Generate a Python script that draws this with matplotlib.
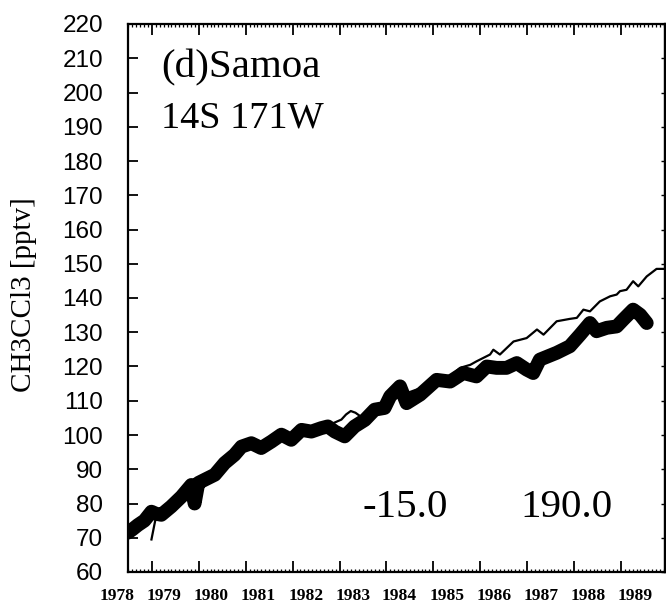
import numpy as np
import matplotlib
matplotlib.use("Agg")
import matplotlib.pyplot as plt
import matplotlib.transforms as mtransforms

# ---------------- data ----------------
obs_year = [1978.00, 1978.10, 1978.21, 1978.35, 1978.50, 1978.60, 1978.71, 1978.92,
            1979.14, 1979.35, 1979.42, 1979.50, 1979.63, 1979.85, 1980.06, 1980.27,
            1980.42, 1980.63, 1980.84, 1981.06, 1981.27, 1981.48, 1981.70, 1981.91,
            1982.12, 1982.26, 1982.41, 1982.62, 1982.83, 1983.05, 1983.26, 1983.47,
            1983.59, 1983.80, 1983.94, 1984.23, 1984.58, 1984.87, 1985.15, 1985.43,
            1985.65, 1985.86, 1986.07, 1986.29, 1986.50, 1986.64, 1986.78, 1987.14,
            1987.42, 1987.64, 1987.85, 1987.99, 1988.21, 1988.42, 1988.56, 1988.77,
            1988.92, 1989.06]
obs_value = [71.5, 72.5, 73.7, 75.0, 77.6, 77.0, 76.7, 79.1,
             82.0, 85.4, 80.0, 86.0, 86.9, 88.4, 91.8, 94.2,
             96.6, 97.6, 96.2, 98.1, 100.1, 98.6, 101.5, 101.0,
             102.0, 102.5, 101.0, 99.6, 102.5, 104.4, 107.4, 107.9,
             111.3, 114.2, 109.3, 111.8, 116.1, 115.6, 118.1, 117.1,
             120.0, 119.6, 119.6, 121.0, 119.1, 118.1, 122.0, 124.0,
             125.9, 129.3, 132.7, 130.3, 131.3, 131.7, 133.7, 136.6,
             135.1, 132.7]

model_year = [1978.50, 1978.58, 1978.75, 1979.00, 1979.30, 1979.60, 1980.00, 1980.30,
              1980.50, 1980.80, 1981.10, 1981.40, 1981.70, 1982.00, 1982.30, 1982.55,
              1982.65, 1982.75, 1982.85, 1983.00, 1983.25, 1983.50, 1983.70, 1984.00,
              1984.30, 1984.60, 1984.90, 1985.08, 1985.30, 1985.43, 1985.72, 1985.79,
              1985.93, 1986.22, 1986.50, 1986.72, 1986.86, 1987.14, 1987.42, 1987.57,
              1987.71, 1987.85, 1988.06, 1988.28, 1988.42, 1988.49, 1988.63, 1988.77,
              1988.88, 1989.06, 1989.27, 1989.45]
model_value = [69.5, 75.0, 77.0, 79.5, 84.0, 87.0, 91.0, 94.5,
               96.5, 97.5, 98.5, 100.0, 101.0, 102.0, 103.0, 104.5,
               106.0, 107.0, 106.5, 105.0, 107.0, 109.5, 112.0, 112.5,
               114.0, 116.5, 117.5, 119.6, 120.5, 121.5, 123.5, 124.9,
               123.5, 127.3, 128.3, 130.8, 129.3, 133.2, 133.9, 134.2,
               136.6, 136.1, 139.0, 140.5, 141.0, 142.0, 142.4, 144.9,
               143.4, 146.3, 148.5, 148.5]

year_labels = ["1978", "1979", "1980", "1981", "1982", "1983",
               "1984", "1985", "1986", "1987", "1988", "1989"]
year_label_pos = [1977.77, 1978.77, 1979.78, 1980.78, 1981.79, 1982.79,
                  1983.79, 1984.80, 1985.80, 1986.81, 1987.81, 1988.81]
year_tick_pos = [1978.51, 1979.51, 1980.51, 1981.51, 1982.51, 1983.51,
                 1984.51, 1985.51, 1986.51, 1987.51, 1988.51]
y_ticks = [60, 70, 80, 90, 100, 110, 120, 130, 140, 150, 160, 170, 180, 190, 200, 210, 220]

title_lines = ["(d)Samoa", "14S 171W"]
corner_values = ["-15.0", "190.0"]
ylabel = "CH3CCl3 [pptv]"

# ---------------- figure ----------------
fig = plt.figure(figsize=(6.66, 6.05), dpi=100)
ax = fig.add_axes([128 / 666, 1 - 572 / 605, 537 / 666, 548 / 605])

ax.plot(model_year, model_value, color="black", lw=1.6, solid_joinstyle="round")
ax.plot(obs_year, obs_value, color="black", lw=10, solid_capstyle="round",
        solid_joinstyle="round")

ax.set_xlim(1978.0, 1989.45)
ax.set_ylim(60, 220)

for s in ax.spines.values():
    s.set_linewidth(1.6)

ax.set_xticks(year_tick_pos)
ax.set_xticks(np.arange(year_tick_pos[0] - 6 / 12, 1989.45, 1 / 12), minor=True)
ax.tick_params(axis="x", which="major", direction="in", length=8, width=1.3,
               top=True, bottom=True, labelbottom=False)
ax.tick_params(axis="x", which="minor", direction="in", length=2.5, width=0.9,
               top=True, bottom=True)

ax.set_yticks(y_ticks)
ax.tick_params(axis="y", which="major", direction="in", length=7, width=1.3,
               left=True, right=False, pad=18)
for lab in ax.get_yticklabels():
    lab.set_fontfamily("Liberation Sans")
    lab.set_fontsize(17.5)

sec = ax.secondary_yaxis("right")
sec.set_yticks(y_ticks)
sec.tick_params(direction="in", length=3, width=1.0, labelright=False)
sec.spines["right"].set_linewidth(1.6)

trans = mtransforms.blended_transform_factory(ax.transData, ax.transAxes)
for pos, lab in zip(year_label_pos, year_labels):
    ax.text(pos, -0.043, lab, transform=trans, ha="center", va="center",
            fontfamily="Liberation Serif", fontweight="bold", fontsize=12.5,
            clip_on=False)

ax.text(0.0615, 0.903, title_lines[0], transform=ax.transAxes, ha="left",
        va="baseline", fontfamily="Liberation Serif", fontsize=29.5)
ax.text(0.0615, 0.812, title_lines[1], transform=ax.transAxes, ha="left",
        va="baseline", fontfamily="Liberation Serif", fontsize=27.5)
ax.text(0.436, 0.100, corner_values[0], transform=ax.transAxes, ha="left",
        va="baseline", fontfamily="Liberation Serif", fontsize=29.5)
ax.text(0.730, 0.100, corner_values[1], transform=ax.transAxes, ha="left",
        va="baseline", fontfamily="Liberation Serif", fontsize=29.5)

fig.text(24 / 666, 1 - 295 / 605, ylabel, rotation=90, ha="center", va="center",
         fontfamily="Liberation Serif", fontsize=21)

fig.savefig("out.png", dpi=100)
